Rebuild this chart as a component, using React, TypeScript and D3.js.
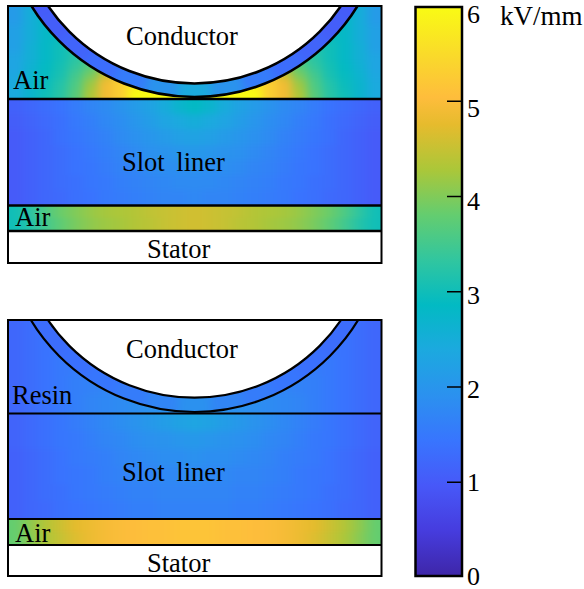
import React, { useRef, useEffect } from 'react';
import * as d3 from 'd3';

// parula colormap, sampled at these of its 64 entries
const parulaIndex = [1, 6, 11, 16, 21, 26, 31, 36, 41, 46, 51, 54, 58, 64];
const parulaColors = ['#3e26a8', '#463cde', '#4758f8', '#3875fe', '#2b91ef', '#1ca9df', '#02bac3', '#31c69f', '#64cd6f', '#abc739', '#e6bb2d', '#febd3c', '#fad62d', '#f9fb14'];
const colorTicks = [0, 1, 2, 3, 4, 5, 6];

// field values in kV/mm, left half of each region (right half mirrors)
const airTopA = [
  [2.1, 2.5, 2.8, 2.9, 3.0, 3.0, 3.0, 3.0, 3.0, 3.0, 3.0, 3.0, 3.0],
  [2.1, 2.5, 2.8, 2.9, 3.0, 3.0, 3.0, 3.0, 3.0, 3.0, 3.0, 3.0, 3.0],
  [2.2, 2.5, 2.8, 2.95, 3.05, 3.1, 3.1, 3.1, 3.1, 3.1, 3.1, 3.1, 3.1],
  [2.2, 2.5, 2.8, 2.95, 3.1, 3.25, 3.3, 3.3, 3.3, 3.3, 3.3, 3.3, 3.3],
  [2.2, 2.55, 2.8, 3.0, 3.2, 3.4, 3.6, 3.6, 3.6, 3.6, 3.6, 3.6, 3.6],
  [2.3, 2.55, 2.8, 3.0, 3.25, 3.5, 3.8, 4.1, 4.1, 4.1, 4.1, 4.1, 4.1],
  [2.3, 2.6, 2.85, 3.05, 3.35, 3.7, 4.1, 4.6, 4.8, 4.8, 4.8, 4.8, 4.8],
  [2.35, 2.65, 2.9, 3.1, 3.5, 3.95, 4.6, 5.2, 5.4, 5.4, 5.4, 5.4, 5.4],
  [2.4, 2.7, 2.95, 3.2, 3.6, 4.2, 4.9, 5.3, 5.8, 6.5, 6.5, 6.5, 6.5],
  [2.4, 2.7, 3.0, 3.25, 3.7, 4.3, 4.9, 5.3, 6.2, 6.8, 6.8, 6.0, 3.5],
];
const linerA = [
  [1.1, 1.2, 1.3, 1.4, 1.55, 1.7, 1.8, 1.95, 2.1, 2.25, 2.45, 2.7, 2.85],
  [1.05, 1.15, 1.25, 1.35, 1.5, 1.6, 1.75, 1.85, 2.0, 2.15, 2.3, 2.4, 2.5],
  [1.0, 1.1, 1.2, 1.35, 1.45, 1.55, 1.65, 1.8, 1.9, 2.0, 2.1, 2.2, 2.25],
  [1.0, 1.1, 1.2, 1.3, 1.4, 1.5, 1.6, 1.7, 1.8, 1.9, 1.95, 2.0, 2.05],
  [1.0, 1.1, 1.2, 1.3, 1.4, 1.45, 1.55, 1.65, 1.7, 1.8, 1.85, 1.85, 1.9],
  [1.0, 1.1, 1.2, 1.3, 1.35, 1.45, 1.5, 1.6, 1.65, 1.7, 1.75, 1.8, 1.8],
  [1.0, 1.1, 1.2, 1.25, 1.35, 1.4, 1.5, 1.55, 1.6, 1.65, 1.7, 1.7, 1.75],
];
const airBottomA = [
  [3.0, 3.3, 3.6, 3.85, 4.0, 4.15, 4.25, 4.3, 4.35, 4.45, 4.5, 4.55, 4.6],
  [3.0, 3.2, 3.5, 3.75, 3.95, 4.1, 4.2, 4.25, 4.35, 4.4, 4.5, 4.55, 4.6],
];
const ringA = [1.0, 1.05, 1.15, 1.3, 1.55, 1.95, 2.4];

const resinB = [
  [1.2, 1.3, 1.4, 1.45, 1.5, 1.5, 1.5, 1.5, 1.5, 1.5, 1.5, 1.5, 1.5],
  [1.2, 1.3, 1.4, 1.45, 1.5, 1.55, 1.55, 1.55, 1.55, 1.55, 1.55, 1.55, 1.55],
  [1.2, 1.3, 1.4, 1.5, 1.55, 1.6, 1.65, 1.65, 1.65, 1.65, 1.65, 1.65, 1.65],
  [1.2, 1.3, 1.4, 1.5, 1.6, 1.65, 1.7, 1.75, 1.75, 1.75, 1.75, 1.75, 1.75],
  [1.2, 1.3, 1.4, 1.5, 1.6, 1.7, 1.75, 1.8, 1.85, 1.9, 1.9, 1.9, 1.9],
];
const linerB = [
  [1.15, 1.25, 1.35, 1.45, 1.55, 1.65, 1.75, 1.85, 1.95, 2.05, 2.15, 2.25, 2.3],
  [1.15, 1.25, 1.35, 1.45, 1.5, 1.6, 1.7, 1.75, 1.85, 1.9, 1.95, 2.0, 2.05],
  [1.1, 1.2, 1.3, 1.4, 1.5, 1.55, 1.6, 1.7, 1.75, 1.8, 1.85, 1.85, 1.9],
  [1.1, 1.2, 1.3, 1.4, 1.45, 1.5, 1.6, 1.65, 1.7, 1.7, 1.75, 1.75, 1.8],
  [1.1, 1.2, 1.3, 1.35, 1.45, 1.5, 1.55, 1.6, 1.65, 1.65, 1.7, 1.7, 1.7],
  [1.1, 1.2, 1.25, 1.35, 1.4, 1.45, 1.5, 1.55, 1.6, 1.6, 1.65, 1.65, 1.65],
];
const airBottomB = [
  [3.8, 4.1, 4.35, 4.55, 4.75, 4.85, 4.95, 5.0, 5.05, 5.1, 5.1, 5.15, 5.15],
  [3.8, 4.05, 4.3, 4.5, 4.7, 4.85, 4.95, 5.0, 5.05, 5.1, 5.1, 5.15, 5.15],
];
const ringB = [1.3, 1.3, 1.35, 1.45, 1.55, 1.7, 1.9];

const ringAngles = [60, 50, 40, 30, 20, 10, 0];

const color = d3.scaleLinear<string>()
  .domain(parulaIndex.map(i => (i - 1) / 63 * 6))
  .range(parulaColors)
  .clamp(true);

const mirror = (row: number[]) => row.concat(row.slice(0, -1).reverse());

const X0 = 8, X1 = 381.5, CX = 194.5;

// one rectangular region: grid of cells, blurred, clipped to the region
function Field({ id, grid, y0, y1, blur }: any) {
  const rows = grid.map(mirror);
  const x = d3.scaleBand<number>().domain(d3.range(rows[0].length)).range([X0, X1]);
  const y = d3.scaleBand<number>().domain(d3.range(rows.length)).range([y0, y1]);
  const pad = 30;
  return (
    <g clipPath={`url(#clip-${id})`}>
      <clipPath id={`clip-${id}`}>
        <rect x={X0} y={y0} width={X1 - X0} height={y1 - y0} />
      </clipPath>
      <g filter={`url(#${blur})`}>
        {rows.map((row: number[], r: number) => row.map((v, c) => {
          const left = c === 0 ? pad : 0;
          const right = c === row.length - 1 ? pad : 0;
          const top = r === 0 ? pad : 0;
          const bottom = r === rows.length - 1 ? pad : 0;
          return (
            <rect key={`${r}-${c}`} x={x(c)! - left} y={y(r)! - top}
              width={x.bandwidth() + left + right + 0.5}
              height={y.bandwidth() + top + bottom + 0.5}
              fill={color(v)} shapeRendering="crispEdges" />
          );
        }))}
      </g>
    </g>
  );
}

// the insulation ring, sectors by angle away from the bottom of the circle
function Ring({ id, values, cy, outerR, panelTop, panelBottom }: any) {
  const angles = ringAngles.concat(ringAngles.slice(0, -1).reverse().map(a => -a));
  const vals = mirror(values);
  const toRad = d3.scaleLinear().domain([0, 180]).range([Math.PI, 0]);
  const arc = d3.arc<any>();
  return (
    <g clipPath={`url(#clip-${id})`}>
      <clipPath id={`clip-${id}`}>
        <rect x={X0} y={panelTop} width={X1 - X0} height={panelBottom - panelTop} />
      </clipPath>
      <clipPath id={`circle-${id}`}>
        <circle cx={CX} cy={cy} r={outerR} />
      </clipPath>
      <g clipPath={`url(#circle-${id})`}>
        <g filter="url(#blurRing)">
          {vals.map((v: number, i: number) => (
            <path key={i} transform={`translate(${CX},${cy})`}
              fill={color(v)}
              d={arc({
                innerRadius: 120,
                outerRadius: outerR + 25,
                startAngle: toRad(angles[i] + 5),
                endAngle: toRad(angles[i] - 5.3),
              }) as string} />
          ))}
        </g>
      </g>
    </g>
  );
}

const labelStyle: any = { fontFamily: '"Liberation Serif", serif', fontSize: 26.5, fill: '#000' };

function Panel({ top, l1, l2, l3, bottom, air, liner, airBottom, ring, name, outerBottom, innerBottom, weight, labels }: any) {
  const outerR = 191.5, innerR = 177;
  const ocy = outerBottom - outerR, icy = innerBottom - innerR;
  return (
    <g>
      <Field id={`air-${name}`} grid={air} y0={top} y1={l1} blur="blurBig" />
      <Ring id={`ring-${name}`} values={ring} cy={ocy} outerR={outerR} panelTop={top} panelBottom={l1} />
      <Field id={`liner-${name}`} grid={liner} y0={l1} y1={l2} blur="blurBig" />
      <Field id={`gap-${name}`} grid={airBottom} y0={l2} y1={l3} blur="blurSmall" />
      <clipPath id={`panel-${name}`}>
        <rect x={X0} y={top} width={X1 - X0} height={l1 - top} />
      </clipPath>
      <g clipPath={`url(#panel-${name})`}>
        <circle cx={CX} cy={ocy} r={outerR} fill="none" stroke="#000" strokeWidth={weight} />
        <circle cx={CX} cy={icy} r={innerR} fill="#fff" stroke="#000" strokeWidth={weight} />
      </g>
      {[l1, l2, l3].map(v => (
        <line key={v} x1={X0} x2={X1} y1={v} y2={v} stroke="#000" strokeWidth={weight} />
      ))}
      <rect x={X0} y={top} width={X1 - X0} height={bottom - top} fill="none" stroke="#000" strokeWidth={2} />
      {labels.map((d: any) => (
        <text key={`${d[0]}-${d[2]}`} x={d[1]} y={d[2]} style={labelStyle} wordSpacing={d[0] === 'Slot liner' ? 5 : 0}>{d[0]}</text>
      ))}
    </g>
  );
}

export default function App() {
  const axisRef = useRef<SVGGElement>(null);
  const barX0 = 415.5, barX1 = 462, barTop = 7, barBottom = 576;
  const tickY = d3.scaleLinear().domain([0, 6]).range([577, 5.5]);
  const labelY = d3.scaleLinear().domain([0, 6]).range([576, 14]);

  useEffect(() => {
    const axis = d3.axisRight(tickY)
      .tickValues(colorTicks.slice(1, -1))
      .tickSize(-15)
      .tickFormat(() => '');
    const g = d3.select(axisRef.current!).call(axis as any);
    g.select('.domain').remove();
    g.selectAll('line').attr('stroke', '#000').attr('stroke-width', 1.5);
  }, []);

  return (
    <svg width={584} height={589} style={{ position: 'absolute', left: 0, top: 0 }}>
      <defs>
        <filter id="blurBig" filterUnits="userSpaceOnUse" x="-50" y="-50" width="700" height="700" colorInterpolationFilters="sRGB">
          <feGaussianBlur stdDeviation="5 3.5" />
        </filter>
        <filter id="blurSmall" filterUnits="userSpaceOnUse" x="-50" y="-50" width="700" height="700" colorInterpolationFilters="sRGB">
          <feGaussianBlur stdDeviation="7 2" />
        </filter>
        <filter id="blurRing" filterUnits="userSpaceOnUse" x="-50" y="-300" width="700" height="900" colorInterpolationFilters="sRGB">
          <feGaussianBlur stdDeviation="4" />
        </filter>
        <linearGradient id="parula" x1="0" x2="0" y1="1" y2="0">
          {parulaIndex.map((v, i) => (
            <stop key={v} offset={(v - 1) / 63} stopColor={parulaColors[i]} />
          ))}
        </linearGradient>
      </defs>

      <Panel name="a" top={6} l1={99} l2={205.5} l3={231} bottom={263} weight={2.6}
        air={airTopA} liner={linerA} airBottom={airBottomA} ring={ringA}
        outerBottom={97} innerBottom={83.5}
        labels={[['Conductor', 126, 45], ['Air', 13, 89], ['Slot liner', 122, 171], ['Air', 15, 226], ['Stator', 147, 258]]} />
      <Panel name="b" top={320} l1={413.5} l2={519} l3={545} bottom={576} weight={2.2}
        air={resinB} liner={linerB} airBottom={airBottomB} ring={ringB}
        outerBottom={412} innerBottom={397.7}
        labels={[['Conductor', 126, 358], ['Resin', 12, 404], ['Slot liner', 122, 481], ['Air', 15, 542], ['Stator', 147, 572]]} />

      <rect x={barX0} y={barTop} width={barX1 - barX0} height={barBottom - barTop} fill="url(#parula)" stroke="#000" strokeWidth={2.5} />
      <g ref={axisRef} transform={`translate(${barX1},0)`} />
      {colorTicks.map(t => (
        <text key={t} x={467} y={labelY(t) + 9} style={{ ...labelStyle, fontSize: 26 }}>{t}</text>
      ))}
      <text x={500} y={25} style={{ ...labelStyle, fontSize: 27 }}>kV/mm</text>
    </svg>
  );
}
